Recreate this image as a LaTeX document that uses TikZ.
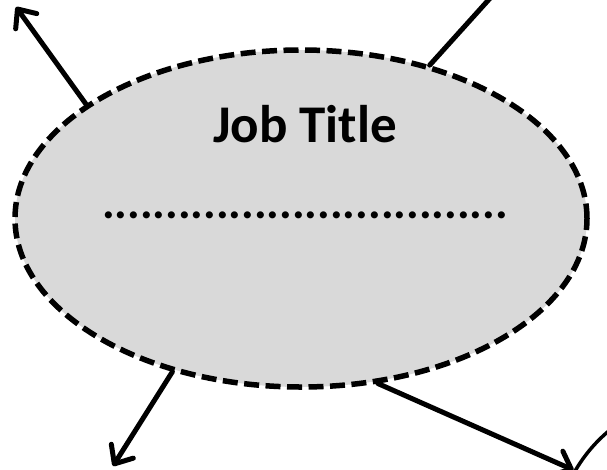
\documentclass[tikz,border=0pt]{standalone}
\usepackage{fontspec}
\setmainfont{Carlito}
\usetikzlibrary{shapes.geometric,arrows.meta}
\definecolor{ovalgray}{RGB}{217,217,217}
\tikzset{
	jobnode/.style={ellipse,draw=black,fill=ovalgray,line width=5.5pt,
		dash pattern=on 15pt off 6.5pt,inner sep=0pt},
	link/.style={line width=5pt,line cap=round},
	barb/.style={-{Straight Barb[length=15pt,width=26pt,line cap=round,line join=round]}}
}

\begin{document}
\begin{tikzpicture}[x=1pt,y=-1pt]
%frame of the picture
\useasboundingbox (0,0) rectangle (607,469);
\clip (0,0) rectangle (607,469);

%the job oval
\node[jobnode,minimum width=572pt,minimum height=337pt] (job) at (301,218.5) {};
\node[anchor=base,font=\bfseries\fontsize{53}{60}\selectfont] (title) at (305,142) {Job Title};
\node[anchor=base,font=\bfseries\fontsize{47.5}{56}\selectfont] (dots) at (305,218) {................................};

%the next oval, mostly outside
\node[circle,draw=black,line width=3.5pt,minimum size=300pt,inner sep=0pt] (next) at (705,546) {};

%free ends
\coordinate (tl) at (16,7);
\coordinate (tr) at (520,-35);
\coordinate (bl) at (113,466);

%connectors
\draw[link,barb] (job.152.9) -- (tl);
\draw[link] (job.50.7) -- (tr);
\draw[link,barb] (job.230.5) -- (bl);
\draw[link,barb] (job.295.4) -- (next.150.4);
\end{tikzpicture}
\end{document}
